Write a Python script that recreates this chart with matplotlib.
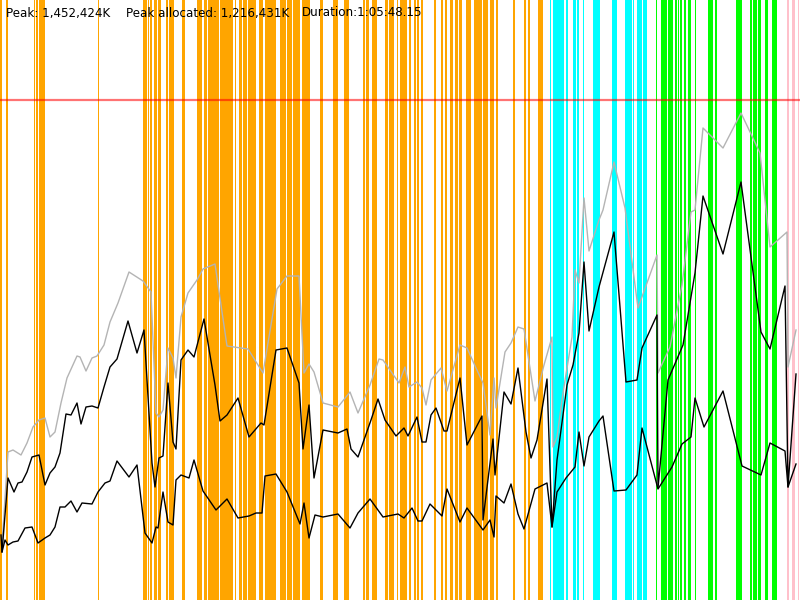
import matplotlib
matplotlib.use('Agg')
import matplotlib.pyplot as plt

# time axis: full run (1:05:48.15) split into 800 steps
# memory axis: units where the peak (1,452,424K) = 500
peak_level = 500

orange_spans = [(0, 1.7), (6, 7.7), (34, 35.3), (36, 38), (39, 45), (98.3, 99.3),
                (142.7, 146.7), (147.7, 148.7), (149.7, 152), (153.7, 157), (158, 161),
                (166, 168.3), (169.3, 173.7), (181.7, 185), (197.3, 202), (204, 207.3),
                (208, 219), (220, 233), (235, 236), (239, 242), (243, 247), (248, 256),
                (259, 263), (265, 276), (280, 286), (287, 292), (293, 300), (302, 310),
                (320, 323), (333, 338), (344, 349), (363, 365), (366, 369), (372, 377),
                (385, 388), (389, 394), (397, 398), (400, 407), (409, 411), (414, 416),
                (417, 419), (421, 423), (434, 436), (441, 443), (445, 447), (450, 453),
                (455, 458), (459, 462), (466, 471), (474, 482), (483, 488), (490, 494),
                (496, 498), (513, 515), (524, 526), (528, 530), (538, 543)]
cyan_spans = [(550, 551), (553, 564), (566, 568), (573, 576), (577, 579), (583, 584),
              (593, 600), (612, 617), (625, 632), (633, 634), (637, 642), (643, 647)]
green_spans = [(655.5, 657), (661, 667), (668, 673), (675, 677), (677.5, 678.5),
               (679.5, 682), (684, 686), (688, 691), (695, 696), (708, 713), (715, 717),
               (736, 742), (750, 752), (753, 757), (758, 761), (765, 768), (772, 777)]
pink_spans = [(787, 788.5), (792, 794.5), (797.5, 799)]

gray_t = [2, 8, 13, 21, 27, 33, 39, 45, 50, 55,
          61, 67, 77, 80, 86, 92, 97, 104, 110, 118,
          129, 143, 151, 156, 159, 163, 168, 173, 176, 181,
          188, 197, 203, 215, 227, 248, 263, 277, 287, 299,
          304, 309, 314, 323, 338, 350, 358, 370, 379, 383,
          399, 405, 409, 417, 422, 426, 431, 441, 447, 460,
          467, 476, 483, 490, 494, 496, 505, 511, 518, 524,
          535, 544, 552, 553, 557, 563, 572, 575, 579, 584,
          589, 599, 603, 614, 625, 638, 657, 658, 670, 682,
          691, 695, 703, 723, 741, 760, 770, 787, 788, 796]
gray_h = [55, 148, 150, 145, 157, 173, 180, 182, 163, 168,
          197, 222, 244, 243, 229, 242, 244, 255, 278, 297,
          328, 319, 308, 187, 183, 190, 252, 242, 222, 283,
          307, 320, 331, 336, 254, 251, 227, 311, 324, 324,
          227, 236, 228, 197, 193, 208, 187, 215, 241, 240,
          217, 233, 213, 218, 212, 195, 220, 232, 209, 255,
          252, 232, 217, 165, 222, 192, 248, 257, 273, 271,
          199, 235, 263, 153, 163, 207, 263, 330, 317, 402,
          349, 380, 390, 438, 392, 292, 345, 227, 253, 315,
          388, 390, 472, 452, 487, 447, 353, 368, 233, 270]

alloc_t = [2, 8, 14, 18, 22, 27, 32, 39, 45, 50,
           55, 60, 66, 71, 77, 81, 86, 92, 98, 104,
           110, 117, 128, 137, 144, 152, 155, 159, 163, 168,
           173, 176, 181, 188, 194, 204, 215, 220, 227, 238,
           249, 261, 264, 276, 287, 299, 303, 309, 314, 323,
           338, 347, 351, 358, 371, 378, 385, 396, 404, 408,
           417, 422, 426, 431, 436, 444, 447, 460, 467, 482,
           483, 493, 495, 504, 511, 518, 526, 531, 537, 547,
           552, 557, 567, 573, 579, 584, 589, 599, 614, 626,
           637, 642, 657, 658, 668, 683, 695, 703, 723, 741,
           761, 770, 785, 788, 796]
alloc_h = [48, 122, 108, 117, 118, 128, 143, 145, 115, 127,
           133, 147, 186, 185, 197, 176, 193, 194, 192, 213,
           233, 241, 279, 247, 270, 137, 113, 142, 144, 217,
           158, 151, 240, 250, 243, 281, 215, 179, 185, 202,
           163, 177, 175, 250, 252, 217, 151, 195, 122, 170,
           167, 171, 151, 143, 180, 201, 180, 164, 172, 164,
           183, 158, 158, 185, 192, 169, 169, 222, 155, 184,
           80, 161, 125, 208, 196, 232, 168, 142, 160, 221,
           73, 140, 215, 235, 267, 338, 269, 313, 368, 218,
           220, 252, 285, 112, 220, 255, 327, 404, 346, 418,
           268, 251, 314, 113, 226]

low_t = [1, 2, 5, 8, 13, 18, 25, 32, 38, 45,
         50, 55, 60, 65, 71, 77, 82, 92, 98, 105,
         110, 117, 129, 137, 145, 152, 156, 158, 163, 168,
         173, 176, 181, 189, 194, 203, 216, 227, 238, 249,
         256, 262, 265, 276, 287, 300, 304, 309, 315, 323,
         338, 350, 358, 370, 383, 398, 404, 412, 418, 422,
         430, 442, 447, 460, 467, 483, 490, 494, 496, 504,
         511, 518, 524, 535, 547, 552, 557, 566, 575, 579,
         584, 589, 599, 603, 614, 626, 637, 642, 658, 672,
         682, 691, 695, 704, 723, 742, 761, 770, 785, 788,
         796]
low_h = [65, 48, 60, 55, 58, 59, 72, 73, 57, 62,
         65, 73, 93, 93, 99, 88, 97, 96, 108, 117,
         119, 139, 123, 135, 67, 57, 73, 72, 108, 78,
         75, 120, 125, 122, 140, 109, 90, 101, 82, 84,
         87, 87, 124, 126, 108, 76, 97, 62, 85, 83,
         86, 72, 87, 101, 83, 86, 82, 92, 79, 79,
         96, 84, 111, 78, 92, 70, 80, 63, 104, 97,
         116, 86, 71, 111, 117, 73, 108, 122, 133, 168,
         134, 163, 179, 184, 109, 110, 125, 172, 111, 133,
         156, 163, 202, 173, 209, 134, 125, 157, 149, 113,
         136]

header = ["Peak: 1,452,424K", "Peak allocated: 1,216,431K", "Duration:1:05:48.15"]
header_x = [6, 126, 302]

fig = plt.figure(figsize=(8, 6), dpi=100)
ax = fig.add_axes([0, 0, 1, 1])
ax.set_xlim(0, 800)
ax.set_ylim(0, 600)
ax.axis('off')

for spans, col in [(orange_spans, '#ffa500'), (cyan_spans, '#00ffff'),
                   (green_spans, '#00ff00'), (pink_spans, '#ffc0cb')]:
    for a, b in spans:
        ax.axvspan(a, b, color=col, lw=0, zorder=1)

ax.axhline(peak_level, color='red', alpha=0.55, lw=1.6, zorder=2)

ax.plot(gray_t, gray_h, color='#b4b4b4', lw=1.0, zorder=3)
ax.plot(alloc_t, alloc_h, color='black', lw=1.0, zorder=4)
ax.plot(low_t, low_h, color='black', lw=1.0, zorder=4)

for s, x in zip(header, header_x):
    ax.text(x / 800, 1 - 13 / 600, s, transform=ax.transAxes, fontsize=8.6,
            va='center', ha='left', color='black', zorder=5)

fig.savefig('out.png', dpi=100)
